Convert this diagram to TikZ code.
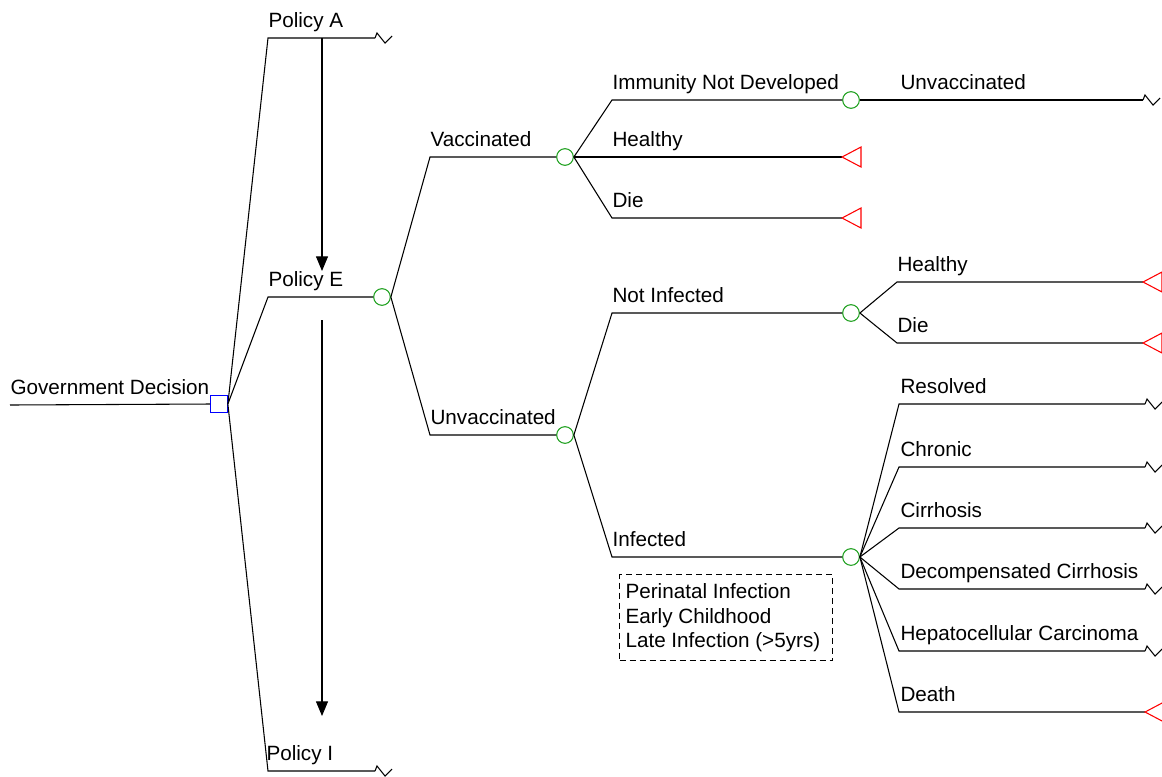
\documentclass[tikz,border=0pt]{standalone}
\usepackage{fontspec}
\setmainfont{Liberation Sans}
\usetikzlibrary{arrows.meta}
\definecolor{chancegreen}{RGB}{30,160,30}
\definecolor{termred}{RGB}{255,0,0}
\definecolor{decblue}{RGB}{0,0,255}
\begin{document}
\begin{tikzpicture}[x=0.75pt,y=-0.75pt,
  line width=0.8pt,
  lbl/.style={anchor=base west, inner sep=0pt, font=\fontsize{15.5}{18}\selectfont},
  chance/.style={circle, draw=chancegreen, minimum size=12.5pt, inner sep=0pt, line width=0.8pt},
  decision/.style={rectangle, draw=decblue, minimum size=12.5pt, inner sep=0pt, line width=0.8pt},
  branch/.style={draw=black, line width=0.8pt},
  flow/.style={draw=black, line width=0.8pt, -{Triangle[width=9pt,length=11pt]}},
  notebox/.style={draw=black, line width=0.75pt, dash pattern=on 4.5pt off 3pt, anchor=north west, minimum width=159.75pt, minimum height=64.5pt, inner sep=0pt},
  term/.pic={\draw[termred, line width=0.8pt] (0,0) -- (19,-10) -- (19,10) -- cycle;},
  cont/.pic={\draw[black, line width=0.8pt] (0,0) -- (2,-5) -- (10,5) -- (17,-2);}
]
\useasboundingbox (0,0) rectangle (1162,776);

% Government decision
\coordinate (g0) at (10,405);
\node[decision] (D) at (219,404) {};
\draw[branch] (g0) -- (D.west);
\node[lbl] (lg) at (10,394) {Government Decision};

% Policies
\coordinate (pA) at (268,38);
\coordinate (pAe) at (375,38);
\coordinate (pE) at (268,297);
\node[chance] (cE) at (382,297) {};
\coordinate (pI) at (268,771);
\coordinate (pIe) at (375,771);
\draw[branch] (D.east) -- (pA) -- (pAe);
\draw[branch] (D.east) -- (pE) -- (cE.west);
\draw[branch] (D.east) -- (pI) -- (pIe);
\pic at (pAe) {cont};
\pic at (pIe) {cont};
\node[lbl] (lA) at (268,27) {Policy A};
\node[lbl] (lE) at (268,286) {Policy E};
\node[lbl] (lI) at (266,760) {Policy I};

% arrows
\coordinate (a1s) at (322,38);
\coordinate (a1e) at (322,271);
\coordinate (a2s) at (322,320);
\coordinate (a2e) at (322,716);
\draw[flow] (a1s) -- (a1e);
\draw[flow] (a2s) -- (a2e);

% Vaccinated / Unvaccinated
\coordinate (v0) at (430,157);
\node[chance] (cV) at (565,157) {};
\coordinate (u0) at (430,435);
\node[chance] (cU) at (565,435) {};
\draw[branch] (cE.east) -- (v0) -- (cV.west);
\draw[branch] (cE.east) -- (u0) -- (cU.west);
\node[lbl] (lV) at (430,146) {Vaccinated};
\node[lbl] (lU) at (430,424) {Unvaccinated};

% Vaccinated branches
\coordinate (i0) at (612,100);
\node[chance] (cI) at (851,100) {};
\coordinate (h1e) at (842,157);
\coordinate (d10) at (612,218);
\coordinate (d1e) at (842,218);
\draw[branch] (cV.east) -- (i0) -- (cI.west);
\draw[branch] (cV.east) -- (h1e);
\draw[branch] (cV.east) -- (d10) -- (d1e);
\pic at (h1e) {term};
\pic at (d1e) {term};
\node[lbl] (lIm) at (612,89) {Immunity Not Developed};
\node[lbl] (lH1) at (612,146) {Healthy};
\node[lbl] (lD1) at (612,207) {Die};
\coordinate (uve) at (1143,100);
\draw[branch] (cI.east) -- (uve);
\pic at (uve) {cont};
\node[lbl] (lUv) at (900,89) {Unvaccinated};

% Unvaccinated branches
\coordinate (n0) at (612,313);
\node[chance] (cN) at (851,313) {};
\coordinate (f0) at (612,557);
\node[chance] (cF) at (851,557) {};
\draw[branch] (cU.east) -- (n0) -- (cN.west);
\draw[branch] (cU.east) -- (f0) -- (cF.west);
\node[lbl] (lN) at (612,302) {Not Infected};
\node[lbl] (lF) at (612,546) {Infected};

% Not infected outcomes
\coordinate (hh0) at (897,282);
\coordinate (hhe) at (1143,282);
\coordinate (dd0) at (897,343);
\coordinate (dde) at (1143,343);
\draw[branch] (cN.east) -- (hh0) -- (hhe);
\draw[branch] (cN.east) -- (dd0) -- (dde);
\pic at (hhe) {term};
\pic at (dde) {term};
\node[lbl] (lH2) at (897,271) {Healthy};
\node[lbl] (lD2) at (897,332) {Die};

% Infected outcomes
\foreach \y/\nm/\txt/\kind in {404/r/Resolved/cont, 467/c/Chronic/cont, 528/ci/Cirrhosis/cont, 589/dc/Decompensated Cirrhosis/cont, 651/hc/Hepatocellular Carcinoma/cont, 712/de/Death/term}{
  \coordinate (\nm0) at (899,\y);
  \coordinate (\nm1) at (1145,\y);
  \draw[branch] (cF.east) -- (\nm0) -- (\nm1);
  \pic at (\nm1) {\kind};
  \node[lbl] (l\nm) at (900,\y-11) {\txt};
}

% note box
\node[notebox] (box) at (619,574) {};
\node[lbl] (t1) at (625,598) {Perinatal Infection};
\node[lbl] (t2) at (625,623) {Early Childhood};
\node[lbl] (t3) at (625,647) {Late Infection (>5yrs)};
\end{tikzpicture}
\end{document}
